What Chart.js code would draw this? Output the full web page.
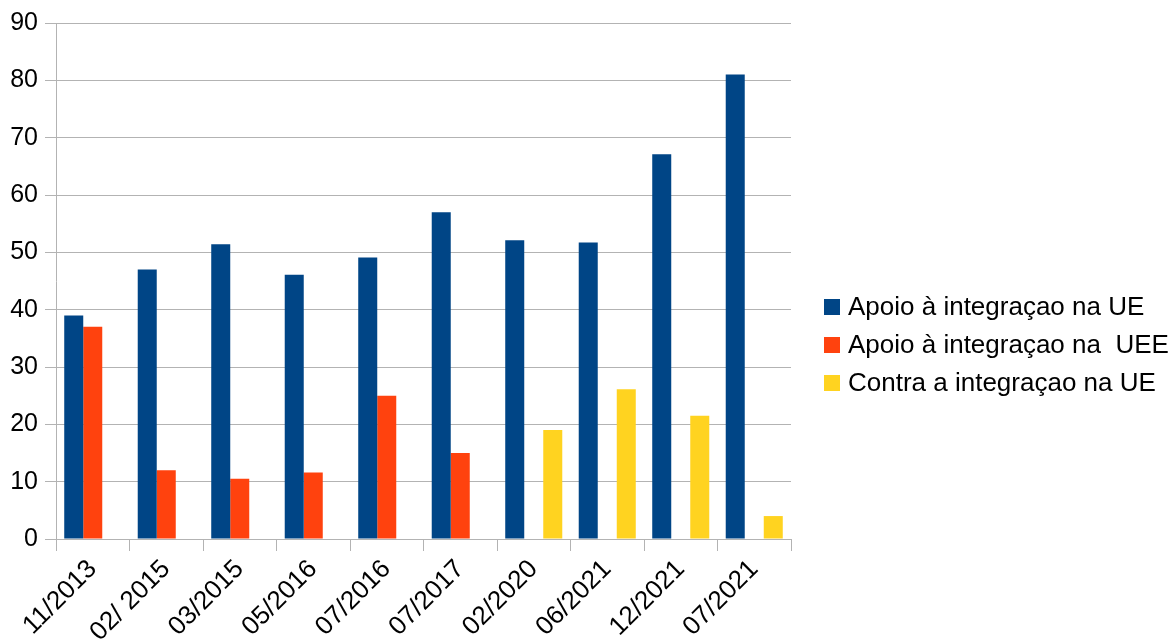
<!DOCTYPE html>
<html>
<head>
<meta charset="utf-8">
<title>Integração na UE</title>
<script src="https://cdn.jsdelivr.net/npm/chart.js@4/dist/chart.umd.min.js"></script>
<style>
    html, body { margin: 0; padding: 0; background: #fff; }
    #wrap { width: 1174px; height: 641px; position: relative; }
</style>
</head>
<body>
<div id="wrap"><canvas id="chart"></canvas></div>
<script>
/***********************
 * DATA
 ***********************/
const categories = ["11/2013", "02/ 2015", "03/2015", "05/2016", "07/2016", "07/2017", "02/2020", "06/2021", "12/2021", "07/2021"];
const apoioUE = [39, 47, 51.4, 46.1, 49.1, 57, 52.1, 51.7, 67.1, 81];
const apoioUEE = [37, 12, 10.5, 11.6, 25, 15, null, null, null, null];
const contraUE = [null, null, null, null, null, null, 19, 26.1, 21.5, 4];
const seriesNames = ["Apoio à integraçao na UE", "Apoio à integraçao na  UEE", "Contra a integraçao na UE"];
const seriesColors = ["#004586", "#ff420e", "#ffd320"];

const FONT = "'Liberation Sans', Arial, sans-serif";
const GRID = "#b3b3b3";

/***********************
 * LEGEND (drawn on the canvas, to the right)
 ***********************/
const sideLegend = {
    id: "sideLegend",
    afterDraw(chart) {
        const c = chart.ctx;
        c.save();
        c.font = "26px " + FONT;
        c.textBaseline = "middle";
        chart.data.datasets.forEach((ds, i) => {
            const y = 307 + i * 38;
            c.fillStyle = ds.backgroundColor;
            c.fillRect(824, y - 8, 16, 16);
            c.fillStyle = "#000";
            c.fillText(ds.label, 848, y + 1);
        });
        c.restore();
    }
};

/***********************
 * CHART
 ***********************/
new Chart(document.getElementById("chart"), {
    type: "bar",
    data: {
        labels: categories,
        datasets: [apoioUE, apoioUEE, contraUE].map((d, i) => ({
            label: seriesNames[i],
            data: d,
            backgroundColor: seriesColors[i],
            borderWidth: 0
        }))
    },
    options: {
        responsive: true,
        maintainAspectRatio: false,
        animation: false,
        layout: { padding: { top: 23, right: 383, left: 0, bottom: 0 } },
        datasets: { bar: { categoryPercentage: 0.776, barPercentage: 1 } },
        plugins: { legend: { display: false }, tooltip: { enabled: false } },
        scales: {
            x: {
                afterFit: s => { s.height = 102; },
                grid: {
                    offset: true,
                    tickLength: 12,
                    tickColor: GRID,
                    color: ctx => ctx.index === categories.length ? GRID : "rgba(0,0,0,0)"
                },
                border: { color: GRID },
                ticks: {
                    color: "#000",
                    font: { family: FONT, size: 26 },
                    minRotation: 45,
                    maxRotation: 45,
                    padding: 3
                }
            },
            y: {
                min: 0,
                max: 90,
                afterFit: s => { s.width = 56; },
                grid: { color: GRID, tickLength: 11 },
                border: { color: GRID },
                ticks: {
                    stepSize: 10,
                    color: "#000",
                    font: { family: FONT, size: 25 },
                    padding: 7
                }
            }
        }
    },
    plugins: [sideLegend]
});
</script>
</body>
</html>
